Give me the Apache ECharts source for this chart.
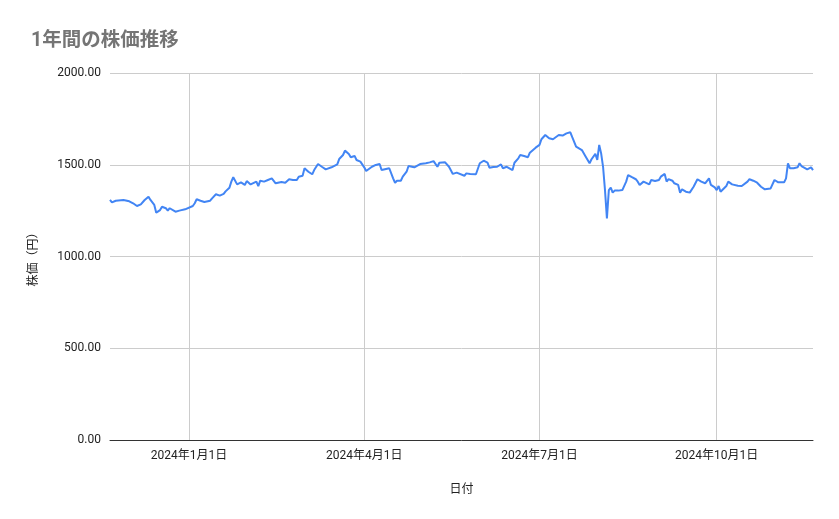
<!DOCTYPE html>
<html>
<head>
<meta charset="utf-8">
<script src="https://cdn.jsdelivr.net/npm/echarts@6/dist/echarts.min.js"></script>
<style>
html,body{margin:0;padding:0;background:#fff;}
#chart{width:839px;height:519px;}
</style>
</head>
<body>
<div id="chart"></div>
<script>
const titleText = '1年間の株価推移';
const xAxisName = '日付';
const yAxisName = '株価（円）';

const dates = [
'2023-11-21','2023-11-22','2023-11-24','2023-11-28','2023-11-29','2023-12-01','2023-12-03','2023-12-05','2023-12-07','2023-12-09',
'2023-12-11','2023-12-12','2023-12-13','2023-12-14','2023-12-15','2023-12-17','2023-12-18','2023-12-20','2023-12-21','2023-12-22',
'2023-12-23','2023-12-25','2023-12-27','2023-12-28','2023-12-30','2023-12-31','2024-01-03','2024-01-04','2024-01-05','2024-01-07',
'2024-01-09','2024-01-10','2024-01-12','2024-01-13','2024-01-15','2024-01-17','2024-01-18','2024-01-19','2024-01-20','2024-01-22',
'2024-01-23','2024-01-24','2024-01-26','2024-01-28','2024-01-29','2024-01-30','2024-01-31','2024-02-02','2024-02-03','2024-02-05',
'2024-02-06','2024-02-07','2024-02-09','2024-02-11','2024-02-13','2024-02-15','2024-02-16','2024-02-18','2024-02-20','2024-02-22',
'2024-02-24','2024-02-26','2024-02-27','2024-02-29','2024-03-01','2024-03-03','2024-03-05','2024-03-06','2024-03-08','2024-03-10',
'2024-03-12','2024-03-13','2024-03-15','2024-03-16','2024-03-18','2024-03-19','2024-03-21','2024-03-22','2024-03-24','2024-03-25',
'2024-03-27','2024-03-28','2024-03-29','2024-03-30','2024-04-01','2024-04-02','2024-04-03','2024-04-05','2024-04-07','2024-04-09',
'2024-04-10','2024-04-11','2024-04-14','2024-04-15','2024-04-16','2024-04-17','2024-04-18','2024-04-20','2024-04-21','2024-04-23',
'2024-04-24','2024-04-27','2024-04-28','2024-04-30','2024-05-01','2024-05-03','2024-05-05','2024-05-07','2024-05-09','2024-05-10',
'2024-05-13','2024-05-14','2024-05-15','2024-05-16','2024-05-17','2024-05-19','2024-05-20','2024-05-23','2024-05-24','2024-05-26',
'2024-05-29','2024-05-30','2024-05-31','2024-06-02','2024-06-03','2024-06-04','2024-06-05','2024-06-07','2024-06-09','2024-06-11',
'2024-06-12','2024-06-14','2024-06-15','2024-06-17','2024-06-18','2024-06-20','2024-06-21','2024-06-23','2024-06-25','2024-06-26',
'2024-06-27','2024-06-29','2024-07-01','2024-07-02','2024-07-04','2024-07-06','2024-07-08','2024-07-09','2024-07-11','2024-07-13',
'2024-07-15','2024-07-17','2024-07-18','2024-07-20','2024-07-21','2024-07-23','2024-07-25','2024-07-27','2024-07-28','2024-07-30',
'2024-07-31','2024-08-01','2024-08-02','2024-08-03','2024-08-04','2024-08-05','2024-08-06','2024-08-07','2024-08-08','2024-08-09',
'2024-08-11','2024-08-13','2024-08-15','2024-08-16','2024-08-18','2024-08-20','2024-08-21','2024-08-22','2024-08-24','2024-08-25',
'2024-08-27','2024-08-28','2024-08-30','2024-09-01','2024-09-02','2024-09-04','2024-09-05','2024-09-06','2024-09-08','2024-09-09',
'2024-09-11','2024-09-12','2024-09-13','2024-09-15','2024-09-17','2024-09-18','2024-09-19','2024-09-21','2024-09-23','2024-09-24',
'2024-09-25','2024-09-27','2024-09-28','2024-09-30','2024-10-01','2024-10-02','2024-10-03','2024-10-04','2024-10-06','2024-10-07',
'2024-10-09','2024-10-10','2024-10-12','2024-10-14','2024-10-15','2024-10-17','2024-10-18','2024-10-20','2024-10-22','2024-10-24',
'2024-10-26','2024-10-27','2024-10-29','2024-10-31','2024-11-02','2024-11-03','2024-11-05','2024-11-06','2024-11-07','2024-11-08',
'2024-11-10','2024-11-12','2024-11-13','2024-11-14','2024-11-15','2024-11-17','2024-11-18','2024-11-19','2024-11-20'
];

const prices = [
1308,1295,1304,1308,1302,1301,1290,1275,1284,1308,
1326,1308,1312,1281,1239,1253,1271,1263,1250,1263,
1253,1244,1250,1250,1257,1266,1275,1290,1312,1304,
1297,1290,1304,1317,1339,1332,1335,1341,1355,1375,
1408,1432,1393,1404,1408,1390,1411,1393,1402,1408,
1384,1413,1408,1417,1426,1399,1402,1406,1402,1421,
1417,1417,1435,1440,1481,1462,1448,1471,1504,1489,
1475,1481,1486,1493,1502,1531,1553,1577,1559,1541,
1548,1526,1535,1517,1486,1466,1475,1489,1499,1504,
1471,1475,1481,1486,1426,1402,1413,1413,1435,1462,
1493,1486,1493,1504,1497,1508,1513,1520,1489,1511,
1513,1504,1489,1499,1450,1457,1462,1440,1453,1450,
1448,1448,1508,1522,1530,1511,1484,1488,1489,1502,
1481,1489,1481,1471,1511,1535,1553,1548,1541,1566,
1571,1593,1608,1639,1662,1644,1639,1644,1662,1659,
1671,1677,1650,1599,1590,1580,1544,1508,1530,1559,
1526,1608,1562,1489,1362,1208,1362,1375,1348,1359,
1359,1362,1408,1444,1432,1421,1408,1390,1408,1399,
1393,1417,1411,1417,1435,1450,1408,1422,1413,1399,
1390,1348,1366,1353,1348,1348,1380,1421,1408,1402,
1399,1426,1390,1377,1362,1384,1353,1359,1384,1408,
1393,1399,1386,1384,1380,1408,1421,1413,1402,1380,
1366,1366,1371,1417,1404,1402,1404,1426,1508,1481,
1481,1486,1508,1493,1489,1475,1481,1486,1471
];

const xTickDates = ['2024-01-01','2024-04-01','2024-07-01','2024-10-01'];
const xRange = ['2023-11-21','2024-11-20'];
const yTicks = [0, 500, 1000, 1500, 2000];

function ts(s){ const p = s.split('-').map(Number); return new Date(p[0], p[1]-1, p[2]).getTime(); }

const seriesData = dates.map((d, i) => [ts(d), prices[i]]);
const tickValues = xTickDates.map(ts);

const font = "Roboto, 'Noto Sans CJK JP', sans-serif";
const chart = echarts.init(document.getElementById('chart'));
chart.setOption({
  animation: false,
  backgroundColor: '#ffffff',
  title: {
    text: titleText,
    left: 26, top: 26,
    textStyle: { fontFamily: font, fontSize: 19.5, fontWeight: 'bold', color: '#757575' }
  },
  grid: { left: 110, right: 26, top: 73, bottom: 79, containLabel: false },
  xAxis: {
    type: 'value',
    scale: true,
    min: ts(xRange[0]), max: ts(xRange[1]),
    name: xAxisName, nameLocation: 'middle', nameGap: 44,
    nameTextStyle: { fontFamily: font, fontSize: 12, color: '#222' },
    axisLine: { show: true, onZero: false, lineStyle: { color: '#333', width: 1 } },
    axisTick: { show: false, customValues: tickValues },
    axisLabel: {
      customValues: tickValues,
      showMinLabel: true, showMaxLabel: true,
      fontFamily: font, fontSize: 12, color: '#222', margin: 10,
      formatter: function (v) { const d = new Date(v); return d.getFullYear() + '年' + (d.getMonth()+1) + '月' + d.getDate() + '日'; }
    },
    splitLine: { show: true, lineStyle: { color: '#cccccc', width: 1 } }
  },
  yAxis: {
    type: 'value',
    min: yTicks[0], max: yTicks[yTicks.length-1], interval: 500,
    name: yAxisName, nameLocation: 'middle', nameGap: 70, nameRotate: 90,
    nameTextStyle: { fontFamily: font, fontSize: 12, color: '#222' },
    axisLine: { show: false },
    axisTick: { show: false },
    axisLabel: {
      fontFamily: font, fontSize: 12, color: '#222', margin: 9,
      formatter: function (v) { return v.toFixed(2); }
    },
    splitLine: { show: true, lineStyle: { color: '#cccccc', width: 1 } }
  },
  series: [{
    type: 'line',
    data: seriesData,
    showSymbol: false,
    symbol: 'none',
    lineStyle: { color: '#4285F4', width: 2 },
    itemStyle: { color: '#4285F4' }
  }]
});
</script>
</body>
</html>
